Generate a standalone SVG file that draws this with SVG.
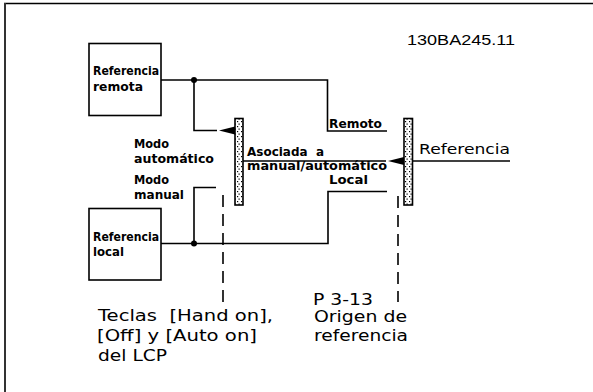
<svg xmlns="http://www.w3.org/2000/svg" width="593" height="392" viewBox="0 0 593 392">
<style>
.ln{fill:none;stroke:#000;stroke-width:1.6}
.box{fill:#fff;stroke:#000;stroke-width:1.6}
.dash{fill:none;stroke:#000;stroke-width:1.6;stroke-dasharray:12 7}
.t{font-family:"DejaVu Sans","Liberation Sans",sans-serif;font-size:12.8px;font-weight:bold;fill:#000;white-space:pre}
.b{font-family:"DejaVu Sans","Liberation Sans",sans-serif;font-size:15.5px;fill:#000;white-space:pre}
.bar{fill:url(#dots);stroke:#000;stroke-width:1.6}
</style>
<defs>
<pattern id="dots" width="4" height="5" patternUnits="userSpaceOnUse">
<rect width="4" height="5" fill="#fff"/>
<rect x="1" y="1" width="1.2" height="1.2" fill="#000"/>
<rect x="2.5" y="3.5" width="1.2" height="1.2" fill="#000"/>
</pattern>
</defs>
<rect width="593" height="392" fill="#fff"/>
<g id="frame">
<line x1="4" y1="3.5" x2="593" y2="3.5" stroke="#000" stroke-width="1.5"/>
<line x1="5" y1="3" x2="5" y2="392" stroke="#333" stroke-width="2"/>
</g>
<g id="connectors">
<path class="ln" d="M161 80 H327.5 V131 H387"/>
<path class="ln" d="M194 80 V130.5 H217"/>
<polygon points="219,130.5 235,126.5 235,134.5" fill="#000"/>
<path class="ln" d="M161 243.5 H328 V191.5 H387"/>
<path class="ln" d="M194 243.5 V187.5 H216"/>
<path class="ln" d="M243 161 H386"/>
<polygon points="388,161 404,157 404,165" fill="#000"/>
<path class="ln" d="M412.5 161 H510"/>
<path class="dash" d="M223 195 V302"/>
<path class="dash" d="M398 196 V302"/>
<circle cx="194" cy="80" r="3" fill="#000"/>
<circle cx="194" cy="243.5" r="3" fill="#000"/>
</g>
<g id="remote">
<rect class="box" x="89" y="43.5" width="72" height="72"/>
<text class="t" x="93" y="75" textLength="66" lengthAdjust="spacingAndGlyphs">Referencia</text>
<text class="t" x="93" y="91" textLength="50" lengthAdjust="spacingAndGlyphs">remota</text>
</g>
<g id="local">
<rect class="box" x="89" y="208.5" width="72" height="71.5"/>
<text class="t" x="93" y="241" textLength="66" lengthAdjust="spacingAndGlyphs">Referencia</text>
<text class="t" x="93" y="256" textLength="31" lengthAdjust="spacingAndGlyphs">local</text>
</g>
<g id="switch1">
<rect class="bar" x="235" y="118.5" width="8" height="86.5"/>
</g>
<g id="switch2">
<rect class="bar" x="404" y="118.5" width="8.5" height="86.5"/>
</g>
<g id="labels">
<text class="t" x="134" y="147.5" textLength="35" lengthAdjust="spacingAndGlyphs">Modo</text>
<text class="t" x="134" y="162.5" textLength="80" lengthAdjust="spacingAndGlyphs">automático</text>
<text class="t" x="134" y="184" textLength="35" lengthAdjust="spacingAndGlyphs">Modo</text>
<text class="t" x="134" y="199" textLength="50" lengthAdjust="spacingAndGlyphs">manual</text>
<text class="t" x="329" y="128" textLength="53" lengthAdjust="spacingAndGlyphs">Remoto</text>
<text class="t" x="247" y="155.5" textLength="77" lengthAdjust="spacingAndGlyphs">Asociada  a</text>
<text class="t" x="247" y="170" textLength="140" lengthAdjust="spacingAndGlyphs">manual/automático</text>
<text class="t" x="329" y="184" textLength="39" lengthAdjust="spacingAndGlyphs">Local</text>
<text class="b" x="419" y="154" textLength="91" lengthAdjust="spacingAndGlyphs" style="font-size:14.5px">Referencia</text>
<text class="b" x="407" y="44.5" textLength="108" lengthAdjust="spacingAndGlyphs" style="font-family:'Liberation Sans',sans-serif">130BA245.11</text>
<text class="b" x="98" y="321" textLength="175" lengthAdjust="spacingAndGlyphs">Teclas  [Hand on],</text>
<text class="b" x="97" y="341" textLength="160" lengthAdjust="spacingAndGlyphs">[Off] y [Auto on]</text>
<text class="b" x="98" y="361" textLength="69" lengthAdjust="spacingAndGlyphs">del LCP</text>
<text class="b" x="313" y="305" textLength="60" lengthAdjust="spacingAndGlyphs">P 3-13</text>
<text class="b" x="314" y="321.5" textLength="93" lengthAdjust="spacingAndGlyphs">Origen de</text>
<text class="b" x="314" y="341" textLength="94" lengthAdjust="spacingAndGlyphs">referencia</text>
</g>
</svg>
